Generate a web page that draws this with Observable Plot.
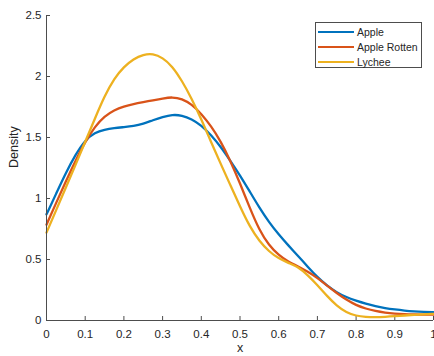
<!DOCTYPE html>
<html>
<head>
<meta charset="utf-8">
<script src="https://cdn.jsdelivr.net/npm/d3@7"></script>
<script src="https://cdn.jsdelivr.net/npm/@observablehq/plot@0.6"></script>
<style>
  html, body { margin: 0; padding: 0; background: #fff; }
  #wrap { position: relative; width: 434px; height: 356px; font-family: "Liberation Sans", Arial, Helvetica, sans-serif; }
  #legend { position: absolute; left: 315px; top: 22px; width: 105px; height: 44px; border: 1px solid #4d4d4d; background: #fff; }
  .item { position: absolute; left: 0; height: 15px; }
  .swatch { position: absolute; left: 2px; width: 36px; height: 0; border-top: 2.4px solid; }
  .lab { position: absolute; left: 41px; font-size: 10.5px; color: #262626; white-space: nowrap; line-height: 12px; }
</style>
</head>
<body>
<div id="wrap"></div>
<script>
const seriesNames = ["Apple", "Apple Rotten", "Lychee"];
const seriesColors = ["#0072BD", "#D95319", "#EDB120"];

const xGrid = [0, 0.025, 0.05, 0.075, 0.1, 0.125, 0.15, 0.175, 0.2, 0.225, 0.25, 0.275, 0.3, 0.325, 0.35, 0.375, 0.4, 0.425, 0.45, 0.475, 0.5, 0.525, 0.55, 0.575, 0.6, 0.625, 0.65, 0.675, 0.7, 0.725, 0.75, 0.775, 0.8, 0.825, 0.85, 0.875, 0.9, 0.925, 0.95, 0.975, 1];

const appleY = [0.87, 1.04, 1.21, 1.36, 1.48, 1.54, 1.565, 1.578, 1.585, 1.593, 1.612, 1.642, 1.668, 1.688, 1.682, 1.652, 1.60, 1.522, 1.425, 1.31, 1.19, 1.058, 0.925, 0.805, 0.705, 0.615, 0.53, 0.44, 0.355, 0.285, 0.23, 0.19, 0.163, 0.138, 0.117, 0.101, 0.09, 0.081, 0.075, 0.071, 0.068];

const rottenY = [0.785, 0.965, 1.14, 1.31, 1.465, 1.59, 1.675, 1.725, 1.755, 1.775, 1.79, 1.805, 1.82, 1.832, 1.818, 1.772, 1.695, 1.595, 1.47, 1.31, 1.125, 0.925, 0.74, 0.615, 0.535, 0.48, 0.445, 0.40, 0.35, 0.285, 0.225, 0.17, 0.125, 0.097, 0.077, 0.064, 0.056, 0.051, 0.049, 0.048, 0.048];

const lycheeY = [0.72, 0.905, 1.09, 1.275, 1.465, 1.655, 1.84, 1.985, 2.08, 2.145, 2.18, 2.188, 2.155, 2.085, 1.965, 1.82, 1.65, 1.465, 1.285, 1.11, 0.935, 0.77, 0.65, 0.565, 0.508, 0.472, 0.44, 0.372, 0.29, 0.20, 0.12, 0.065, 0.038, 0.029, 0.027, 0.03, 0.035, 0.041, 0.047, 0.051, 0.055];

const xTicks = [0, 0.1, 0.2, 0.3, 0.4, 0.5, 0.6, 0.7, 0.8, 0.9, 1];
const xTickLabels = ["0", "0.1", "0.2", "0.3", "0.4", "0.5", "0.6", "0.7", "0.8", "0.9", "1"];
const yTicks = [0, 0.5, 1, 1.5, 2, 2.5];
const yTickLabels = ["0", "0.5", "1", "1.5", "2", "2.5"];

const allY = [appleY, rottenY, lycheeY];
const data = [];
seriesNames.forEach((name, si) => {
  xGrid.forEach((x, i) => data.push({series: name, x, y: allY[si][i]}));
});

const axisColor = "#4d4d4d";

const chart = Plot.plot({
  width: 434,
  height: 356,
  marginLeft: 46,
  marginRight: 1,
  marginTop: 15,
  marginBottom: 36,
  style: {fontFamily: '"Liberation Sans", Arial, Helvetica, sans-serif', fontSize: "11.5px", color: "#262626", background: "#fff", overflow: "visible"},
  x: {domain: [0, 1]},
  y: {domain: [0, 2.5]},
  color: {domain: seriesNames, range: seriesColors},
  marks: [
    Plot.axisX({ticks: xTicks, tickFormat: (d) => xTickLabels[xTicks.indexOf(d)], tickSize: 0, tickPadding: 9, label: null, fill: "#262626"}),
    Plot.axisY({ticks: yTicks, tickFormat: (d) => yTickLabels[yTicks.indexOf(d)], tickSize: 0, tickPadding: 5, label: null, fill: "#262626"}),
    Plot.ruleX(xTicks, {x: d => d, insetTop: 301, stroke: axisColor, strokeWidth: 1}),
    Plot.ruleY(yTicks, {y: d => d, insetRight: 383, stroke: axisColor, strokeWidth: 1}),
    Plot.line(data, {x: "x", y: "y", stroke: "series", strokeWidth: 2.3, curve: "basis"}),
    Plot.ruleX([0], {stroke: axisColor, strokeWidth: 1}),
    Plot.ruleY([0], {stroke: axisColor, strokeWidth: 1}),
    Plot.text(["Density"], {frameAnchor: "left", rotate: -90, dx: -33, fontSize: 12.5, fill: "#262626"}),
    Plot.text(["x"], {frameAnchor: "bottom", dy: 31, fontSize: 12.5, fill: "#262626"})
  ]
});

const wrap = document.getElementById("wrap");
wrap.appendChild(chart);

const legend = document.createElement("div");
legend.id = "legend";
seriesNames.forEach((name, i) => {
  const item = document.createElement("div");
  item.className = "item";
  item.style.top = (2 + i * 15) + "px";
  const sw = document.createElement("div");
  sw.className = "swatch";
  sw.style.borderTopColor = seriesColors[i];
  sw.style.top = "6px";
  const lab = document.createElement("div");
  lab.className = "lab";
  lab.style.top = "1px";
  lab.textContent = name;
  item.appendChild(sw);
  item.appendChild(lab);
  legend.appendChild(item);
});
wrap.appendChild(legend);
</script>
</body>
</html>
